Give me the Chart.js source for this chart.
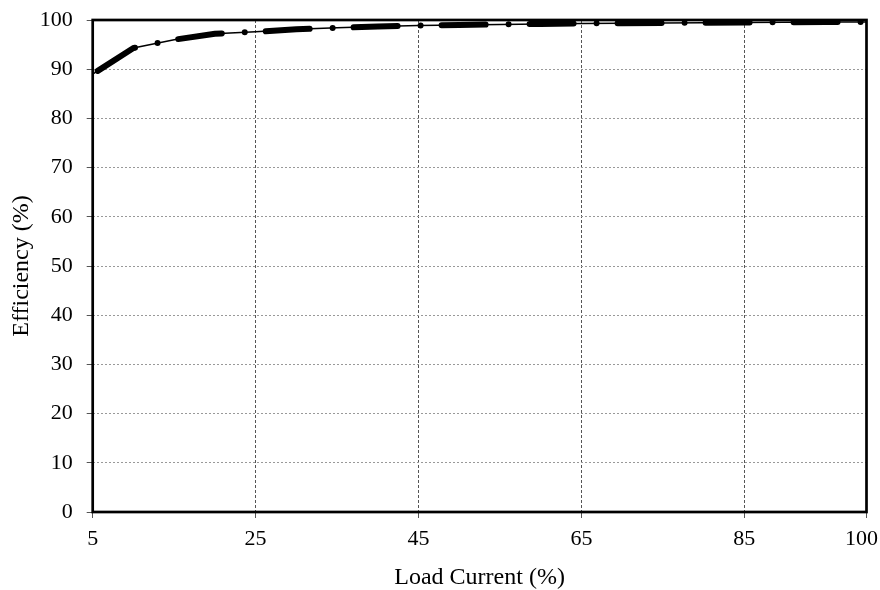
<!DOCTYPE html>
<html>
<head>
<meta charset="utf-8">
<script src="https://cdn.jsdelivr.net/npm/chart.js@4/dist/chart.umd.min.js"></script>
<style>
html,body{margin:0;padding:0;background:#fff;}
#wrap{width:880px;height:590px;}
</style>
</head>
<body>
<div id="wrap"><canvas id="c" width="880" height="590"></canvas></div>
<script>
const loadCurrent = [5, 10, 15, 20, 25, 30, 35, 40, 45, 50, 55, 60, 65, 70, 75, 80, 85, 90, 95, 100];
const efficiency = [89.0, 94.3, 96.0, 97.2, 97.6, 98.1, 98.4, 98.7, 98.9, 99.0, 99.1, 99.2, 99.3, 99.35, 99.4, 99.45, 99.5, 99.55, 99.6, 99.6];
const xTicks = [5, 25, 45, 65, 85, 100];
const yMin = 0, yMax = 100, yStep = 10;

const pts = loadCurrent.map((x, i) => ({x: x, y: efficiency[i]}));

const frame = {
  id: 'frame',
  beforeDraw(chart) {
    const xs = chart.scales.x;
    const items = xs.getLabelItems();
    if (items.length) {
      const last = items[items.length - 1];
      const ctx = chart.ctx;
      ctx.save();
      ctx.font = '22px "Liberation Serif"';
      const hw = ctx.measureText(String(last.label)).width / 2;
      ctx.restore();
      const maxX = chart.width - 2 - hw;
      if (last.options.translation[0] > maxX) last.options.translation[0] = maxX;
    }
  },
  afterDraw(chart) {
    const a = chart.chartArea, ctx = chart.ctx;
    ctx.save();
    ctx.strokeStyle = '#000';
    ctx.lineWidth = 2.7;
    ctx.strokeRect(a.left, a.top, a.right - a.left, a.bottom - a.top);
    ctx.restore();
  }
};

new Chart(document.getElementById('c'), {
  type: 'line',
  data: {
    datasets: [
      {
        data: pts, borderColor: '#000', borderWidth: 1.5,
        pointRadius: 0, tension: 0, fill: false
      },
      {
        data: pts, borderColor: '#000', borderWidth: 6,
        borderDash: [44, 23, 0, 21], borderDashOffset: 82, borderCapStyle: 'round',
        pointRadius: 0, tension: 0, fill: false
      }
    ]
  },
  plugins: [frame],
  options: {
    responsive: false,
    animation: false,
    layout: {padding: {left: 0, right: 13.5, top: 20, bottom: 0}},
    plugins: {legend: {display: false}, tooltip: {enabled: false}},
    scales: {
      x: {
        type: 'linear', min: 5, max: 100,
        afterBuildTicks(s) { s.ticks = xTicks.map(v => ({value: v})); },
        afterFit(s) { s.height = 78; s.paddingLeft = 0; s.paddingRight = 0; s.paddingTop = 0; s.paddingBottom = 0; },
        grid: {color: '#555', lineWidth: 1, tickLength: 6, tickColor: '#555', tickBorderDash: [], tickWidth: 1},
        border: {display: false, dash: [3, 2]},
        ticks: {color: '#000', font: {family: 'Liberation Serif', size: 22}, maxRotation: 0, padding: 8, autoSkip: false},
        title: {display: true, text: 'Load Current (%)', color: '#000', font: {family: 'Liberation Serif', size: 24, lineHeight: 1}, padding: {top: 1, bottom: 0}}
      },
      y: {
        min: yMin, max: yMax,
        ticks: {stepSize: yStep, color: '#000', font: {family: 'Liberation Serif', size: 22}, padding: 14},
        afterFit(s) { s.width = 92.7; s.paddingTop = 0; s.paddingBottom = 0; s.paddingLeft = 0; s.paddingRight = 0; },
        grid: {color: '#999', lineWidth: 1, tickLength: 6, tickColor: '#555', tickBorderDash: [], tickWidth: 1},
        border: {display: false, dash: [2, 2]},
        title: {display: true, text: 'Efficiency (%)', color: '#000', font: {family: 'Liberation Serif', size: 24, lineHeight: 1}, padding: {top: 10, bottom: 0}}
      }
    }
  }
});
</script>
</body>
</html>
